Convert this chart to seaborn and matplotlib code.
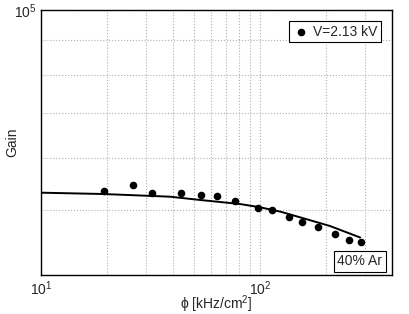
import matplotlib
matplotlib.use('Agg')

import seaborn as sns
import matplotlib.pyplot as plt
import pandas as pd
from matplotlib.ticker import LogLocator, LogFormatterSciNotation, NullFormatter

# measured points
phi = [19.3, 26.3, 32.2, 43.4, 53.9, 63.6, 76.6, 97.6, 113, 135.6, 156, 184.6, 220, 255.6, 288]
gain = [53550, 54670, 53060, 53170, 52750, 52510, 51660, 50480, 50080, 48880, 47990, 47220, 46040, 45150, 44780]

# fitted curve
fit_phi = [10, 19.2, 38.8, 53.2, 81.0, 100, 123.4, 152.2, 208.7, 286.2]
fit_gain = [53170, 52930, 52440, 51850, 51130, 50550, 49810, 48830, 47380, 45540]

legend_label = "V=2.13 kV"
box_text = "40% Ar"

sns.set_style("white")
plt.rcParams['font.family'] = ['Liberation Sans', 'DejaVu Sans']
plt.rcParams['mathtext.default'] = 'regular'
plt.rcParams['font.size'] = 10

pts = pd.DataFrame({"phi": phi, "gain": gain})
fit = pd.DataFrame({"phi": fit_phi, "gain": fit_gain})

fig = plt.figure(figsize=(4.09, 3.14), dpi=100)
ax = fig.add_axes([0.1002, 0.1242, 0.8582, 0.8439])

sns.lineplot(data=fit, x="phi", y="gain", color="black", linewidth=1.4, ax=ax, sort=False)
sns.scatterplot(data=pts, x="phi", y="gain", color="black", s=30, edgecolor="black",
                linewidth=0, ax=ax, label=legend_label, zorder=3)

ax.set_xscale("log")
ax.set_yscale("log")
ax.set_xlim(10, 400)
ax.set_ylim(4e4, 1e5)

ax.xaxis.set_major_locator(LogLocator(base=10))
ax.xaxis.set_minor_locator(LogLocator(base=10, subs=range(2, 10)))
ax.xaxis.set_major_formatter(LogFormatterSciNotation())
ax.xaxis.set_minor_formatter(NullFormatter())
ax.yaxis.set_major_locator(LogLocator(base=10))
ax.yaxis.set_minor_locator(LogLocator(base=10, subs=range(2, 10)))
ax.yaxis.set_major_formatter(LogFormatterSciNotation())
ax.yaxis.set_minor_formatter(NullFormatter())

ax.grid(True, which="both", linestyle=":", color="#b0b0b0", linewidth=0.8)
ax.tick_params(which="both", direction="in", length=3, color="black", labelsize=10, pad=3)
ax.tick_params(which="minor", length=2)
for s in ax.spines.values():
    s.set_color("black")
    s.set_linewidth(1.0)

ax.set_xlabel("ϕ [kHz/cm$^2$]", fontsize=10, va="center")
ax.set_ylabel("Gain", fontsize=10, va="center")
ax.xaxis.set_label_coords(0.5, -0.112)
ax.yaxis.set_label_coords(-0.083, 0.5)

leg = ax.legend(loc="upper right", fancybox=False, edgecolor="black", framealpha=1,
                borderaxespad=0.8, handletextpad=0.3, handlelength=1.2, fontsize=10,
                borderpad=0.25)
leg.get_frame().set_linewidth(0.8)

ax.text(0.972, 0.025, box_text, transform=ax.transAxes, ha="right", va="bottom", fontsize=10,
        bbox=dict(boxstyle="square,pad=0.25", facecolor="white", edgecolor="black", linewidth=0.8))

fig.savefig("out.png", dpi=100)
